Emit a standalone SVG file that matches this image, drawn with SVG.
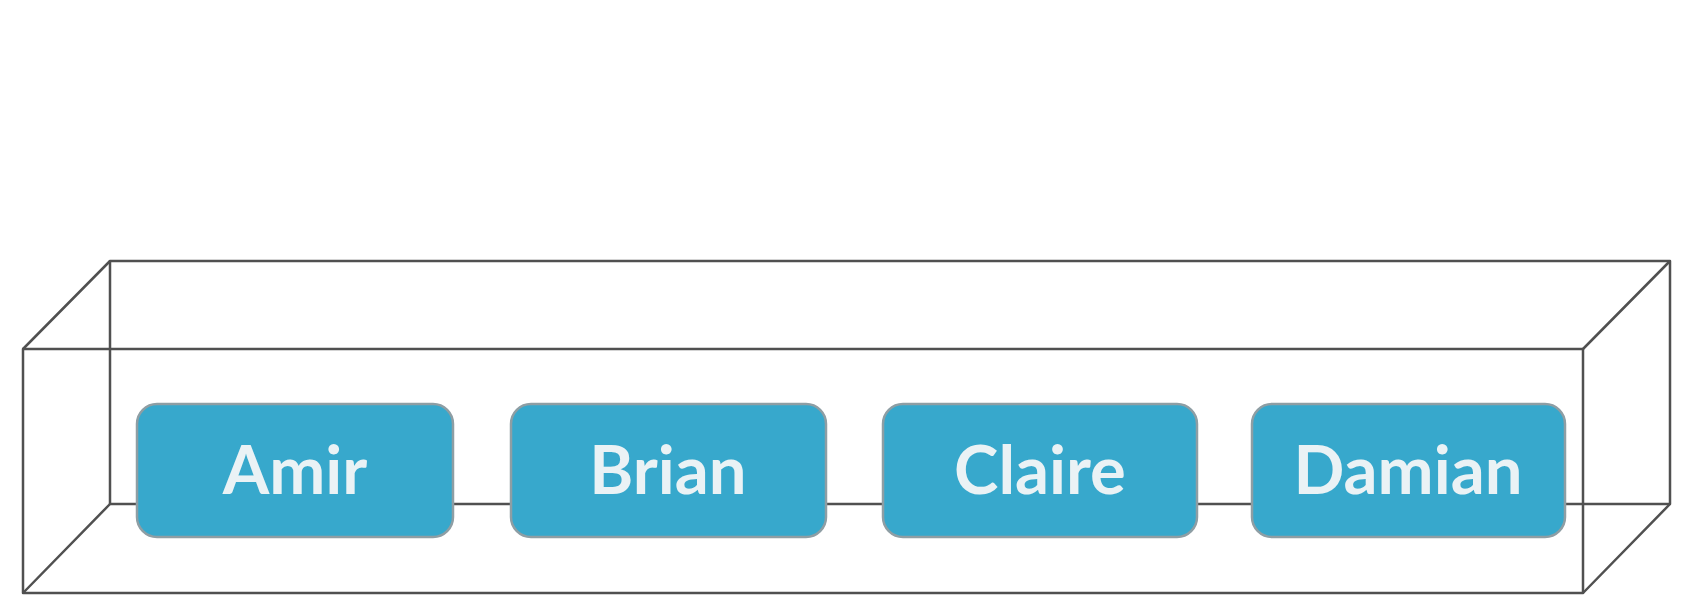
<svg xmlns="http://www.w3.org/2000/svg" width="1703" height="608" viewBox="0 0 1703 608">
<style>
.edge{stroke:#505050;stroke-width:2.5;fill:none;stroke-linejoin:round}
.node rect{fill:#37a8cc;stroke:#8e9ea4;stroke-width:2.5}
.node text{font-family:Lato,"Open Sans",sans-serif;font-weight:bold;font-size:67px;fill:#eaf2f5;text-anchor:middle}
</style>
<rect width="1703" height="608" fill="#ffffff"/>
<g id="connectors">
<path class="edge" d="M110 261 H1670 V504 H110 Z"/>
<path class="edge" d="M23 349 H1583 V593 H23 Z"/>
<path class="edge" d="M23 349 L110 261 M1583 349 L1670 261 M23 593 L110 504 M1583 593 L1670 504"/>
</g>
<g id="amir" class="node"><rect x="137" y="404" width="316" height="133" rx="20"/><text x="295" y="494">Amir</text></g>
<g id="brian" class="node"><rect x="511" y="404" width="315" height="133" rx="20"/><text x="668" y="494">Brian</text></g>
<g id="claire" class="node"><rect x="883" y="404" width="314" height="133" rx="20"/><text x="1040" y="494">Claire</text></g>
<g id="damian" class="node"><rect x="1252" y="404" width="313" height="133" rx="20"/><text x="1408" y="494">Damian</text></g>
</svg>
